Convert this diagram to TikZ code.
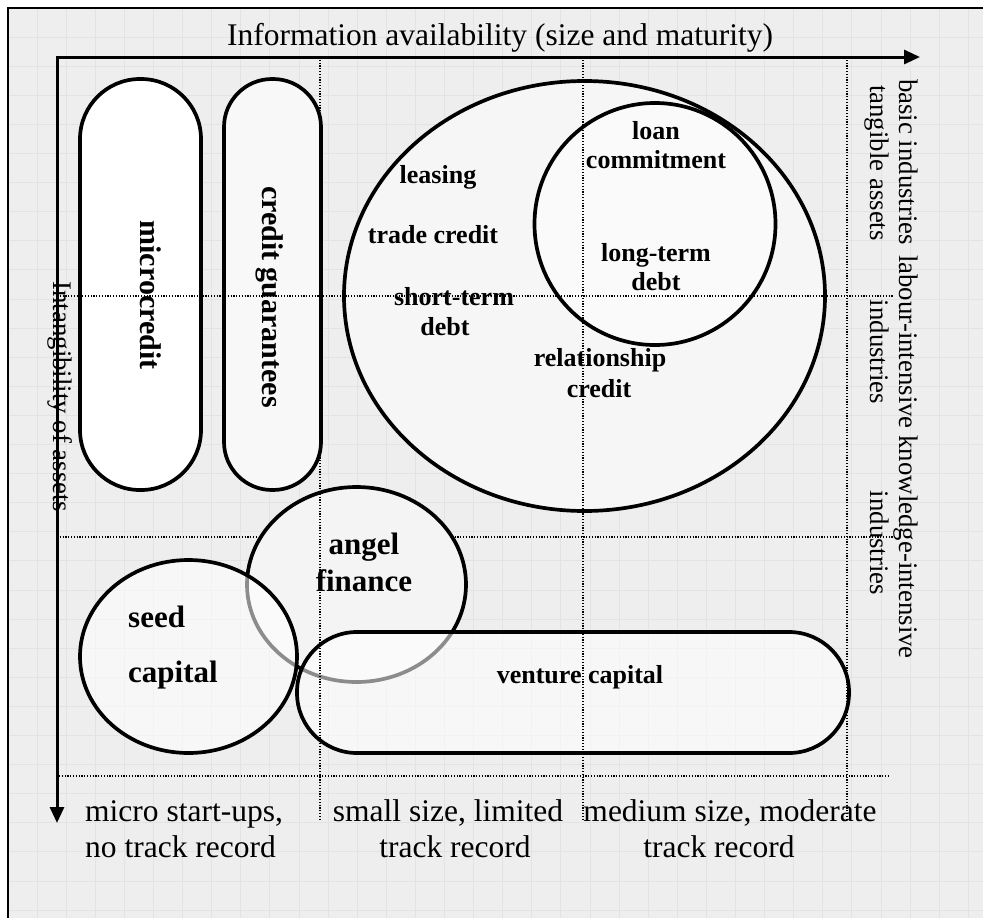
\documentclass[tikz,border=0pt]{standalone}
\usepackage{fontspec}
\setmainfont{Liberation Serif}
\usetikzlibrary{arrows.meta}
\definecolor{paper}{HTML}{EEEEEE}
\definecolor{gridline}{HTML}{E3E3E3}
\definecolor{fillA}{HTML}{F6F6F6}
\definecolor{fillB}{HTML}{FAFAFA}
\definecolor{fillC}{HTML}{F8F8F8}
\definecolor{fillD}{HTML}{F4F4F4}
\begin{document}
\begin{tikzpicture}[x=1pt,y=-1pt,
  outline/.style={line width=3.7pt, draw=black},
  axis/.style={line width=3pt, line join=miter,
    {Triangle[length=16pt,width=14pt]}-{Triangle[length=16pt,width=14pt]}},
  divider/.style={line width=1.3pt, dash pattern=on 1.2pt off 1.6pt},
  lbl/.style={font=\fontsize{31.5}{36}\selectfont, inner sep=0pt, anchor=base},
  side/.style={font=\fontsize{26.8}{30}\selectfont, inner sep=0pt, rotate=-90, anchor=base},
  bld/.style={font=\bfseries\fontsize{26}{29}\selectfont, inner sep=0pt, anchor=base},
  bigbld/.style={font=\bfseries\fontsize{31}{37}\selectfont, inner sep=0pt, anchor=base},
  vbld/.style={font=\bfseries\fontsize{30}{34}\selectfont, inner sep=0pt, rotate=-90}
]
\useasboundingbox (0,0) rectangle (983,918);

% paper, grid and frame
\fill[white] (0,0) rectangle (983,918);
\fill[paper] (8,8) rectangle (983,918);
\foreach \i in {1,...,33}
  \draw[gridline, line width=0.9pt] ({8+29.1*\i},8) -- ({8+29.1*\i},918);
\foreach \i in {1,...,31}
  \draw[gridline, line width=0.9pt] (8,{8+29.1*\i}) -- (983,{8+29.1*\i});
\draw[line width=2pt] (8,918) -- (8,8) -- (983,8);

% divider below the angel finance ellipse
\draw[divider] (57,537) -- (893,537);

% funding instruments
\draw[outline, fill=white, rounded corners=60pt] (80,79) rectangle (201,490);
\draw[outline, fill=fillC, rounded corners=48pt] (224,79) rectangle (321,490);
\draw[outline, fill=fillA] (584.5,296) ellipse [x radius=240.5pt, y radius=215pt];
\draw[outline, fill=fillB] (655,224) ellipse [x radius=120.5pt, y radius=121pt];
\draw[outline, fill=fillD] (356.5,584.5) ellipse [x radius=109.5pt, y radius=97.5pt];
\draw[outline, fill=white, fill opacity=0.55] (188.5,656.5) ellipse [x radius=108.5pt, y radius=96.5pt];
\draw[outline, fill=white, fill opacity=0.55, rounded corners=60pt] (297,632) rectangle (849,753);

% dividers of the size / asset classes
\draw[divider] (57,296) -- (893,296);
\draw[divider] (59,776) -- (890,776);
\draw[divider] (320,57) -- (320,821);
\draw[divider] (583,57) -- (583,821);
\draw[divider] (847,57) -- (847,821);

% axes
\coordinate (origin) at (57,57);
\coordinate (xend) at (920,57);
\coordinate (yend) at (57,823);
\draw[axis] (xend) -- (origin) -- (yend);

% axis titles
\node[lbl] (xtitle) at (500,45) {Information availability (size and maturity)};
\node[side] (ytitle) at (53,397) {Intangibility of assets};

% size classes
\node[lbl, anchor=base west] (micro1) at (85,821) {micro start-ups,};
\node[lbl, anchor=base west] (micro2) at (85,857) {no track record};
\node[lbl] (small1) at (448,821) {small size, limited};
\node[lbl] (small2) at (455,857) {track record};
\node[lbl] (medium1) at (730,821) {medium size, moderate};
\node[lbl] (medium2) at (719,857) {track record};

% asset classes
\node[side] (basic1) at (899,162) {basic industries};
\node[side] (basic2) at (870,163) {tangible assets};
\node[side] (kinds) at (899,457) {labour-intensive knowledge-intensive};
\node[side] (labour2) at (870,352) {industries};
\node[side] (know2) at (870,543) {industries};

% instrument names
\node[vbld] (microcredit) at (151,295) {microcredit};
\node[vbld] (guarantees) at (270,297) {credit guarantees};
\node[bld] (leasing) at (438,183) {leasing};
\node[bld] (trade) at (433,243) {trade credit};
\node[bld] (short1) at (454,305) {short-term};
\node[bld] (short2) at (445,335) {debt};
\node[bld] (loan1) at (656,139) {loan};
\node[bld] (loan2) at (656,168) {commitment};
\node[bld] (long1) at (656,261) {long-term};
\node[bld] (long2) at (656,290) {debt};
\node[bld] (rel1) at (600,366) {relationship};
\node[bld] (rel2) at (599,397) {credit};
\node[bigbld] (angel1) at (364,554) {angel};
\node[bigbld] (angel2) at (364,591) {finance};
\node[bigbld, anchor=base west] (seed1) at (128,627) {seed};
\node[bigbld, anchor=base west] (seed2) at (128,682) {capital};
\node[bld] (venture) at (580,683) {venture capital};
\end{tikzpicture}
\end{document}
